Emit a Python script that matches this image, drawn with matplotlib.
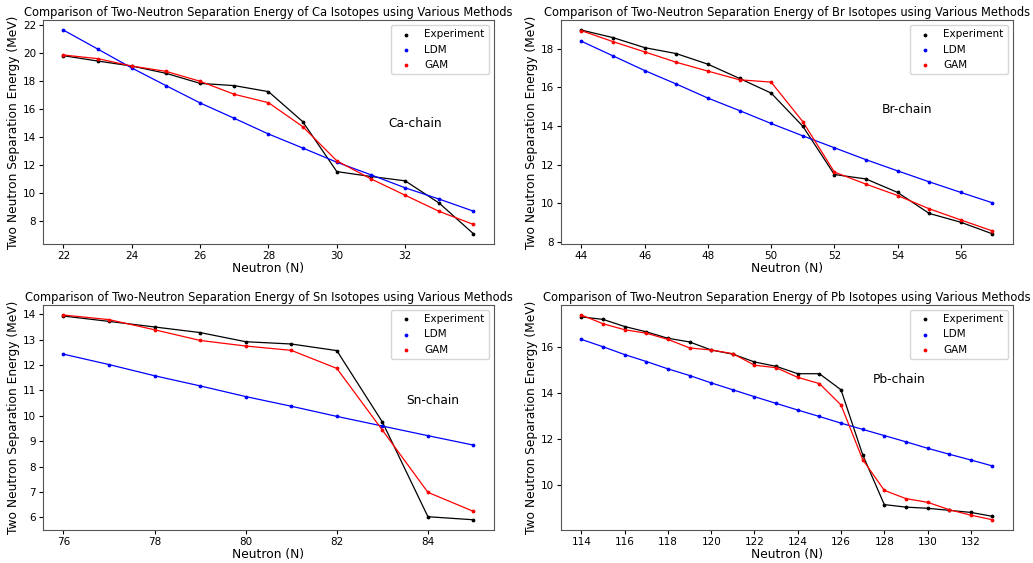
import numpy as np
import matplotlib
matplotlib.use("Agg")
from matplotlib import pyplot as plt

# Ca chain
ca_n = np.arange(22, 35)
ca_exp = [19.81, 19.43, 19.07, 18.55, 17.83, 17.67, 17.24, 15.10, 11.52, 11.17, 10.86, 9.26, 7.07]
ca_ldm = [21.64, 20.29, 18.93, 17.67, 16.43, 15.33, 14.21, 13.21, 12.19, 11.29, 10.36, 9.55, 8.69]
ca_gam = [19.86, 19.60, 19.07, 18.69, 17.98, 17.05, 16.45, 14.74, 12.29, 11.00, 9.83, 8.67, 7.74]

# Br chain
br_n = np.arange(44, 58)
br_exp = [18.98, 18.59, 18.07, 17.76, 17.21, 16.47, 15.71, 13.99, 11.48, 11.25, 10.55, 9.46, 9.00, 8.40]
br_ldm = [18.40, 17.64, 16.88, 16.18, 15.45, 14.80, 14.13, 13.49, 12.87, 12.25, 11.67, 11.10, 10.55, 10.01]
br_gam = [18.95, 18.38, 17.85, 17.31, 16.85, 16.40, 16.28, 14.23, 11.61, 10.98, 10.39, 9.70, 9.12, 8.55]

# Sn chain
sn_n = np.arange(76, 86)
sn_exp = [13.93, 13.72, 13.50, 13.28, 12.92, 12.83, 12.57, 9.76, 6.03, 5.91]
sn_ldm = [12.43, 12.02, 11.58, 11.18, 10.76, 10.38, 9.98, 9.60, 9.22, 8.85]
sn_gam = [13.97, 13.79, 13.39, 12.97, 12.75, 12.58, 11.87, 9.44, 6.99, 6.24]

# Pb chain
pb_n = np.arange(114, 134)
pb_exp = [17.29, 17.18, 16.87, 16.64, 16.36, 16.20, 15.85, 15.67, 15.33, 15.14,
          14.82, 14.82, 14.12, 11.30, 9.13, 9.02, 8.97, 8.88, 8.79, 8.62]
pb_ldm = [16.31, 15.99, 15.65, 15.35, 15.03, 14.74, 14.42, 14.12, 13.82, 13.53,
          13.24, 12.96, 12.67, 12.40, 12.13, 11.86, 11.58, 11.32, 11.07, 10.81]
pb_gam = [17.37, 16.99, 16.73, 16.58, 16.31, 15.94, 15.85, 15.69, 15.19, 15.08,
          14.66, 14.39, 13.46, 11.09, 9.75, 9.39, 9.23, 8.91, 8.67, 8.47]

chains = [
    ("Ca", ca_n, ca_exp, ca_ldm, ca_gam, (0.765, 0.54)),
    ("Br", br_n, br_exp, br_ldm, br_gam, (0.71, 0.60)),
    ("Sn", sn_n, sn_exp, sn_ldm, sn_gam, (0.805, 0.575)),
    ("Pb", pb_n, pb_exp, pb_ldm, pb_gam, (0.69, 0.667)),
]

# axes boxes in figure fractions
boxes = [
    [0.0416, 0.5666, 0.4366, 0.398],
    [0.543, 0.5666, 0.4376, 0.398],
    [0.0416, 0.0586, 0.4366, 0.400],
    [0.543, 0.0586, 0.4376, 0.400],
]

fig = plt.figure(figsize=(10.33, 5.63), dpi=100)

for (name, n, exp, ldm, gam, txt), box in zip(chains, boxes):
    ax = fig.add_axes(box)
    for y, color, label in [(exp, 'black', 'Experiment'), (ldm, 'blue', 'LDM'), (gam, 'red', 'GAM')]:
        ax.plot(n, y, color=color, linewidth=0.9)
        ax.scatter(n, y, color=color, s=3, label=label, zorder=3)
    ax.set_xticks(np.arange(n[0], n[-1], 2))
    ax.tick_params(labelsize=7.5, length=3, pad=2)
    ax.set_title(f"Comparison of Two-Neutron Separation Energy of {name} Isotopes using Various Methods",
                 fontsize=8.3, pad=3)
    ax.set_xlabel("Neutron (N)", fontsize=8.8, labelpad=1)
    ax.set_ylabel("Two Neutron Separation Energy (MeV)", fontsize=8.8, labelpad=2)
    ax.text(txt[0], txt[1], f"{name}-chain", transform=ax.transAxes, fontsize=8.8,
            ha='left', va='center')
    ax.legend(loc='upper right', fontsize=7.5)
    for s in ax.spines.values():
        s.set_color('#555555')

fig.savefig("out.png", dpi=100)
